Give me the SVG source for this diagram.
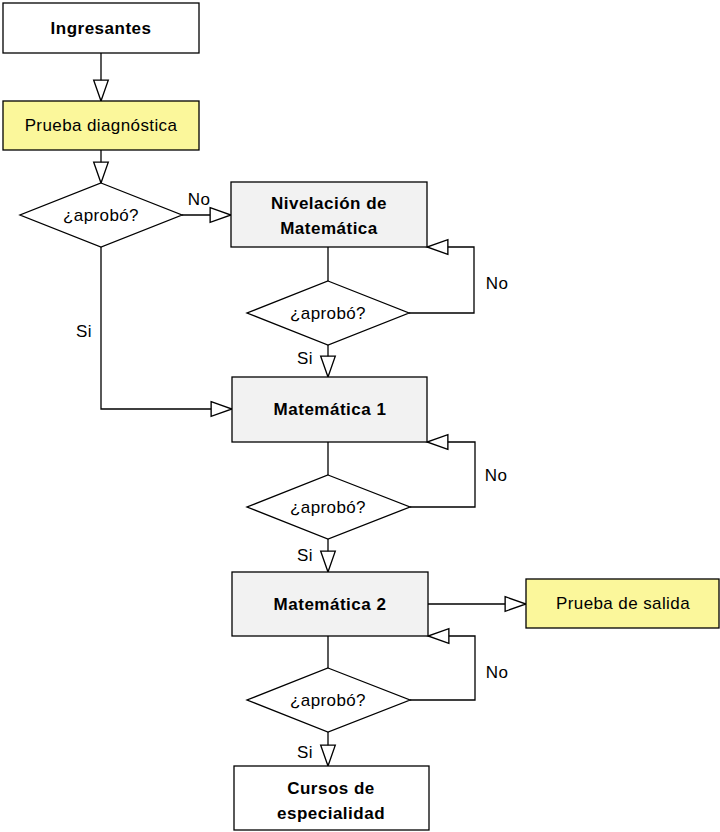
<svg xmlns="http://www.w3.org/2000/svg" width="720" height="832" viewBox="0 0 720 832">
<style>
.box{stroke:#000;stroke-width:1.3;}
.w{fill:#fff}
.g{fill:#f2f2f2}
.y{fill:#fbf79b}
.dia{fill:#fff;stroke:#000;stroke-width:1.3}
.t{font-family:"Liberation Sans",Arial,sans-serif;font-size:17px;fill:#000;text-anchor:middle;letter-spacing:0.4px}
.b{font-weight:bold;letter-spacing:0.5px}
.c{fill:none;stroke:#000;stroke-width:1.3}
</style>
<defs>
<marker id="ah" markerUnits="userSpaceOnUse" markerWidth="24" markerHeight="18" viewBox="-1 -1 23 16" refX="20" refY="7" orient="auto">
<path d="M0,0 L20,7 L0,14 Z" fill="#fff" stroke="#000" stroke-width="1.3"/>
</marker>
</defs>
<rect width="720" height="832" fill="#fff"/>
<g id="connectors">
<path class="c" d="M101,53 V101" marker-end="url(#ah)"/>
<path class="c" d="M101,150 V183" marker-end="url(#ah)"/>
<path class="c" d="M182,215 H231" marker-end="url(#ah)"/>
<path class="c" d="M101,247 V409 H232" marker-end="url(#ah)"/>
<path class="c" d="M328,247 V281"/>
<path class="c" d="M409,313 H474 V247 H427" marker-end="url(#ah)"/>
<path class="c" d="M328,345 V377" marker-end="url(#ah)"/>
<path class="c" d="M328,442 V475"/>
<path class="c" d="M410,507 H475 V442 H427" marker-end="url(#ah)"/>
<path class="c" d="M328,539 V572" marker-end="url(#ah)"/>
<path class="c" d="M428,604 H526" marker-end="url(#ah)"/>
<path class="c" d="M328,636 V668"/>
<path class="c" d="M410,700 H475 V636 H428" marker-end="url(#ah)"/>
<path class="c" d="M328,732 V766" marker-end="url(#ah)"/>
<text class="t" x="199" y="205">No</text>
<text class="t" x="84" y="337">Si</text>
<text class="t" x="497" y="289">No</text>
<text class="t" x="305" y="364">Si</text>
<text class="t" x="496" y="481">No</text>
<text class="t" x="305" y="561">Si</text>
<text class="t" x="497" y="678">No</text>
<text class="t" x="305" y="758">Si</text>
</g>
<g id="ingresantes">
<rect class="box w" x="3" y="3" width="196" height="50"/>
<text class="t b" x="101" y="34">Ingresantes</text>
</g>
<g id="prueba-diagnostica">
<rect class="box y" x="3" y="101" width="196" height="49"/>
<text class="t" x="101" y="131">Prueba diagnóstica</text>
</g>
<g id="decision-1">
<polygon class="dia" points="101,183 182,215 101,247 20,215"/>
<text class="t" x="101" y="221">¿aprobó?</text>
</g>
<g id="nivelacion">
<rect class="box g" x="231" y="182" width="196" height="65"/>
<text class="t b" x="329" y="209">Nivelación de</text>
<text class="t b" x="329" y="234">Matemática</text>
</g>
<g id="decision-2">
<polygon class="dia" points="328,281 409,313 328,345 247,313"/>
<text class="t" x="328" y="319">¿aprobó?</text>
</g>
<g id="matematica-1">
<rect class="box g" x="232" y="377" width="195" height="65"/>
<text class="t b" x="330" y="415">Matemática 1</text>
</g>
<g id="decision-3">
<polygon class="dia" points="328,475 410,507 328,539 247,507"/>
<text class="t" x="328" y="513">¿aprobó?</text>
</g>
<g id="matematica-2">
<rect class="box g" x="232" y="572" width="196" height="64"/>
<text class="t b" x="330" y="610">Matemática 2</text>
</g>
<g id="prueba-salida">
<rect class="box y" x="526" y="579" width="193" height="49"/>
<text class="t" x="623" y="609">Prueba de salida</text>
</g>
<g id="decision-4">
<polygon class="dia" points="328,668 410,700 328,732 247,700"/>
<text class="t" x="328" y="706">¿aprobó?</text>
</g>
<g id="cursos">
<rect class="box w" x="234" y="766" width="195" height="64"/>
<text class="t b" x="331" y="794">Cursos de</text>
<text class="t b" x="331" y="819">especialidad</text>
</g>
</svg>
